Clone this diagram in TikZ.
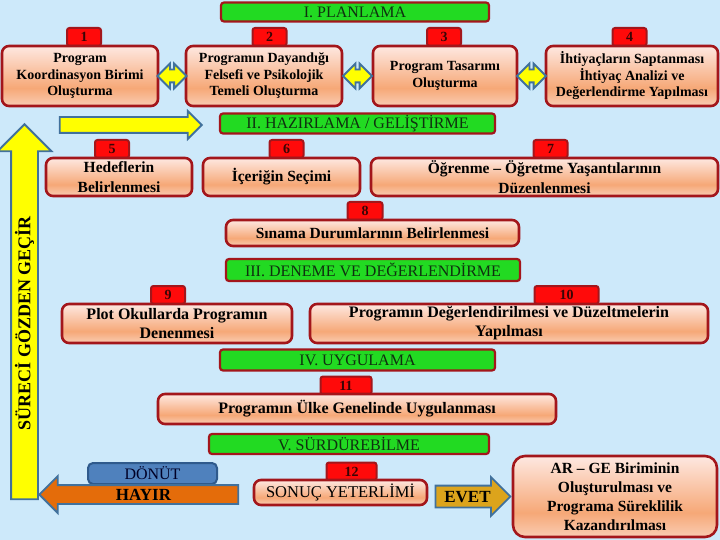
\documentclass[tikz,border=0pt]{standalone}
\usepackage{fontspec}
\setmainfont{Liberation Serif}
\usetikzlibrary{shapes.arrows,calc}

\definecolor{bgblue}{HTML}{CDE9FA}
\definecolor{dred}{HTML}{A3161B}
\definecolor{hgreen}{HTML}{22DA22}
\definecolor{htext}{HTML}{0F300F}
\definecolor{tabred}{HTML}{FF0A0A}
\definecolor{tabtext}{HTML}{3A0505}
\definecolor{pchT}{HTML}{FEE8E1}
\definecolor{pchM}{HTML}{F6A877}
\definecolor{pchB}{HTML}{F9CCB3}
\definecolor{arrline}{HTML}{41719C}
\definecolor{ayellow}{HTML}{FFFF00}
\definecolor{fbblue}{HTML}{4F81BD}
\definecolor{fbline}{HTML}{2F5A8C}
\definecolor{hayirorange}{HTML}{E46C0A}
\definecolor{evetgold}{HTML}{DCA41C}
\pgfdeclareverticalshading{peachfade}{100bp}{color(0bp)=(pchB); color(25bp)=(pchB); color(40bp)=(pchM); color(75bp)=(pchT); color(100bp)=(pchT)}

\tikzset{
	hdr/.style={draw=dred, line width=2.2pt, fill=hgreen, rounded corners=3pt, inner sep=0pt, text=htext, font=\fontsize{16}{18}\selectfont},
	numtab/.style={draw=dred, line width=2pt, fill=tabred, rounded corners=2.5pt, inner sep=0pt, minimum height=18pt, text=tabtext, font=\bfseries\fontsize{14}{16}\selectfont},
	stepbox/.style={draw=dred, line width=2.6pt, rounded corners=7pt, shade, shading=peachfade, inner sep=0pt, align=center, font=\bfseries\fontsize{14}{16.5}\selectfont},
	dblarrow/.style={double arrow, draw=arrline, line width=1.8pt, fill=ayellow, inner xsep=0pt, inner ysep=5.5pt, double arrow head extend=6pt, minimum height=29pt},
	fatarrow/.style={single arrow, draw=arrline, line width=1.8pt, inner xsep=0pt, text depth=0pt, font=\bfseries\fontsize{17}{19}\selectfont}
}

\begin{document}
\begin{tikzpicture}[x=1pt, y=-1pt]
		\useasboundingbox[fill=bgblue] (0,0) rectangle (720,540);
		\node[numtab, minimum width=34pt] (t1) at (84,37) {1};
		\node[numtab, minimum width=34pt] (t2) at (269.5,37) {2};
		\node[numtab, minimum width=34pt] (t3) at (444,37) {3};
		\node[numtab, minimum width=34pt] (t4) at (629.5,37) {4};
		\node[numtab, minimum width=34pt] (t5) at (112,149) {5};
		\node[numtab, minimum width=34pt] (t6) at (286.5,149) {6};
		\node[numtab, minimum width=34pt] (t7) at (550.5,149) {7};
		\node[numtab, minimum width=35pt] (t8) at (365,211) {8};
		\node[numtab, minimum width=34pt] (t9) at (168,295) {9};
		\node[numtab, minimum width=64pt] (t10) at (566.5,295) {10};
		\node[numtab, minimum width=51pt] (t11) at (346,385.5) {11};
		\node[numtab, minimum width=50pt] (t12) at (351.5,471.5) {12};
		\node[hdr, minimum width=268pt, minimum height=19pt] (h1) at (355,12) {I. PLANLAMA};
		\node[hdr, minimum width=275pt, minimum height=20pt] (h2) at (357.5,123.5) {II. HAZIRLAMA / GELİŞTİRME};
		\node[hdr, minimum width=294pt, minimum height=22pt] (h3) at (373,270) {III. DENEME VE DEĞERLENDİRME};
		\node[hdr, minimum width=275pt, minimum height=21pt] (h4) at (357.5,360) {IV. UYGULAMA};
		\node[hdr, minimum width=280pt, minimum height=20pt] (h5) at (349,444) {V. SÜRDÜREBİLME};
		\node[stepbox, minimum width=156pt, minimum height=60pt] (b1) at (80,76) {Program\\Koordinasyon Birimi\\Oluşturma};
		\node[stepbox, minimum width=156pt, minimum height=60pt] (b2) at (264,76) {Programın Dayandığı\\Felsefi ve Psikolojik\\Temeli Oluşturma};
		\node[stepbox, minimum width=144pt, minimum height=60pt] (b3) at (445,76) {Program Tasarımı\\Oluşturma};
		\node[stepbox, minimum width=172pt, minimum height=60pt] (b4) at (632,76) {İhtiyaçların Saptanması\\İhtiyaç Analizi ve\\Değerlendirme Yapılması};
		\node[dblarrow] (a12) at ($(b1.east)!0.5!(b2.west)$) {};
		\node[dblarrow] (a23) at ($(b2.east)!0.5!(b3.west)$) {};
		\node[dblarrow] (a34) at ($(b3.east)!0.5!(b4.west)$) {};
		\node[fatarrow, fill=ayellow, anchor=tip, minimum height=142pt, inner ysep=7pt, single arrow head extend=6pt] (nextstage) at (203,125) {};
		\node[stepbox, font=\bfseries\fontsize{15.5}{20}\selectfont, minimum width=146pt, minimum height=38pt] (b5) at (119,177) {Hedeflerin\\Belirlenmesi};
		\node[stepbox, font=\bfseries\fontsize{15.5}{20}\selectfont, minimum width=157pt, minimum height=38pt] (b6) at (281.5,177) {İçeriğin Seçimi};
		\node[stepbox, font=\bfseries\fontsize{15.5}{20}\selectfont, minimum width=347pt, minimum height=38pt] (b7) at (544.5,177) {Öğrenme – Öğretme Yaşantılarının\\Düzenlenmesi};
		\node[stepbox, font=\bfseries\fontsize{15.5}{20}\selectfont, minimum width=293pt, minimum height=26pt] (b8) at (372.5,233) {Sınama Durumlarının Belirlenmesi};
		\node[stepbox, font=\bfseries\fontsize{16}{19}\selectfont, minimum width=230pt, minimum height=39pt] (b9) at (177,323.5) {Plot Okullarda Programın\\Denenmesi};
		\node[stepbox, font=\bfseries\fontsize{16}{19}\selectfont, minimum width=398pt, minimum height=39pt] (b10) at (509,323.5) {Programın Değerlendirilmesi ve Düzeltmelerin\\Yapılması};
		\node[stepbox, font=\bfseries\fontsize{16}{19}\selectfont, minimum width=398pt, minimum height=30pt] (b11) at (357,409) {Programın Ülke Genelinde Uygulanması};
		\node[stepbox, font=\fontsize{16.5}{19}\selectfont, minimum width=173pt, minimum height=25pt] (b12) at (340.5,492.5) {SONUÇ YETERLİMİ};
		\node[stepbox, rounded corners=12pt, font=\bfseries\fontsize{15.5}{19}\selectfont, minimum width=204pt, minimum height=81pt] (b13) at (615,496.5) {AR – GE Biriminin\\Oluşturulması ve\\Programa Süreklilik\\Kazandırılması};
		\node[fatarrow, fill=ayellow, rotate=90, anchor=tip, minimum height=375pt, text height=12pt, inner ysep=6.5pt, single arrow head extend=13.5pt, font=\bfseries\fontsize{18}{20}\selectfont] (review) at (24.5,123) {SÜRECİ GÖZDEN GEÇİR\hspace*{10pt}};
		\node[draw=fbline, line width=2pt, fill=fbblue, rounded corners=5pt, minimum width=129pt, minimum height=21pt, inner sep=0pt, text=black!85!blue, font=\fontsize{16}{18}\selectfont] (feedback) at (152.5,473.5) {DÖNÜT};
		\node[fatarrow, fill=hayirorange, shape border rotate=180, anchor=tip, minimum height=199pt, text height=11pt, inner ysep=3pt, single arrow head extend=9pt] (no) at (38,494.5) {HAYIR};
		\node[fatarrow, fill=evetgold, anchor=tip, minimum height=75pt, text height=12pt, inner ysep=4pt, single arrow head extend=8.5pt] (yes) at (b13.west) {EVET};
\end{tikzpicture}
\end{document}
